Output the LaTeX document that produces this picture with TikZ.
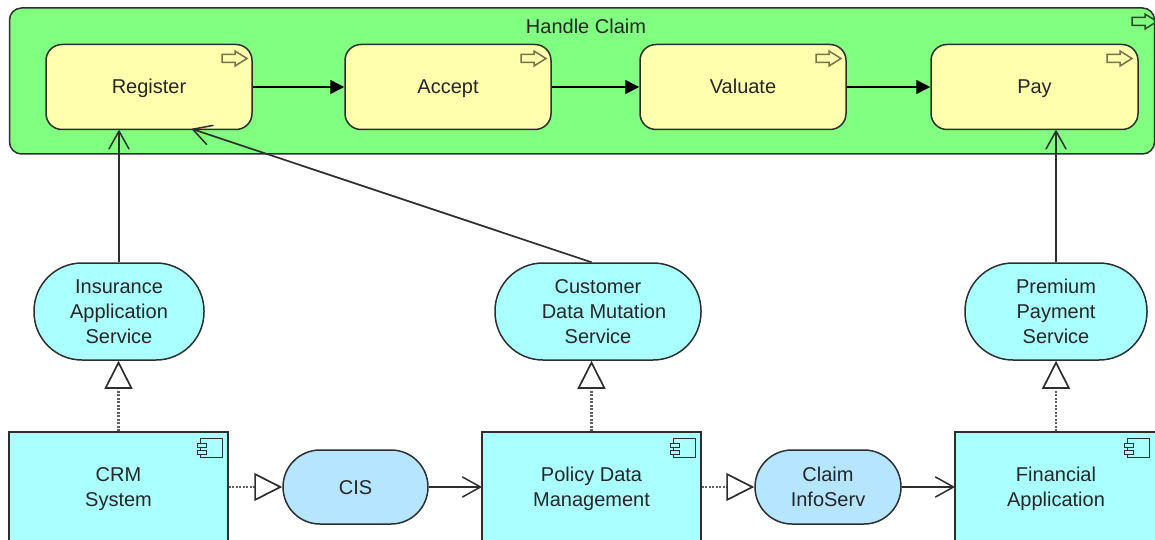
\documentclass[tikz,border=0pt]{standalone}
\usepackage{fontspec}
\setmainfont{Liberation Sans}
\usetikzlibrary{arrows.meta,calc}
\definecolor{edgec}{HTML}{2E2E2E}
\definecolor{groupc}{HTML}{80FF80}
\definecolor{procc}{HTML}{FFFFAE}
\definecolor{appc}{HTML}{AAFFFF}
\definecolor{infc}{HTML}{B5E5FF}
\newcommand{\ls}{\rule[-4.5pt]{0pt}{23pt}}
\tikzset{
  lab/.style={font=\fontsize{20}{25}\selectfont,text=black!85,align=center,inner sep=0pt},
  box/.style={lab,draw=edgec,line width=1.5pt,minimum width=#1},
  grp/.style={box=1145pt,fill=groupc,minimum height=146pt,rounded corners=12pt},
  proc/.style={box=206pt,fill=procc,minimum height=85pt,rounded corners=16pt},
  svc/.style={box=#1,fill=appc,minimum height=97pt,rounded corners=48pt},
  iface/.style={box=145pt,fill=infc,minimum height=74pt,rounded corners=37pt},
  comp/.style={box=#1,fill=appc,minimum height=110pt},
  trig/.style={draw=black,line width=1.4pt,-{Triangle[length=14pt,width=14pt]}},
  flowa/.style={draw=edgec,line width=1.7pt,-{Straight Barb[length=18pt,width=20pt,line width=1.5pt,round]}},
  real/.style={draw=gray!75!black,line width=2.6pt,dash pattern=on 2pt off 1.5pt,
    -{Triangle[open,length=28pt,width=28pt,line width=1.7pt,fill=white,color=edgec]}},
  iconarrow/.style={draw=#1,line width=1.5pt},
}
\newcommand{\procicon}[3]{% x y colour
  \draw[iconarrow=#3] (#1,#2+3.5) -- (#1+13,#2+3.5) -- (#1+13,#2) -- (#1+25,#2+7.5) -- (#1+13,#2+15) -- (#1+13,#2+11.5) -- (#1,#2+11.5) -- cycle;}
\newcommand{\compicon}[2]{% x y
  \draw[draw=edgec,line width=1pt] (#1,#2) rectangle (#1+22,#2+19);
  \draw[draw=edgec,fill=appc,line width=1pt] (#1-3,#2+5) rectangle (#1+6,#2+9);
  \draw[draw=edgec,fill=appc,line width=1pt] (#1-3,#2+12) rectangle (#1+6,#2+16);}
\begin{document}
\begin{tikzpicture}[x=1pt,y=-1pt]
\useasboundingbox (0,0) rectangle (1155,540);
\clip (0,0) rectangle (1155,540);
\node[grp] (claim) at (582,81) {};
\node[lab] (claimt) at (586,26.5) {\ls Handle Claim};
\node[proc] (reg) at (149,87) {\ls Register};
\node[proc] (acc) at (448,87) {\ls Accept};
\node[proc] (val) at (743,87) {\ls Valuate};
\node[proc,minimum width=207pt] (pay) at (1034.5,87) {\ls Pay};
\node[svc=170pt] (ins) at (119,311.5) {\ls Insurance\\\ls Application\\\ls Service};
\node[svc=206pt] (cus) at (598,311.5) {\ls Customer\\\ls\hspace*{12pt}Data Mutation\\\ls Service};
\node[svc=182pt] (pre) at (1056,311.5) {\ls Premium\\\ls Payment\\\ls Service};
\node[comp=219pt] (crm) at (118.5,487) {\ls CRM\\\ls System};
\node[comp=219pt] (pol) at (591.5,487) {\ls Policy Data\\\ls Management};
\node[comp=202pt] (fin) at (1056,487) {\ls Financial\\\ls Application};
\node[iface] (cis) at (355.5,487) {\ls CIS};
\node[iface,minimum width=146pt] (inf) at (828,487) {\ls Claim\\\ls InfoServ};
\coordinate (regin) at (192,129);
\draw[trig] (reg) -- (acc);
\draw[trig] (acc) -- (val);
\draw[trig] (val) -- (pay);
\draw[flowa] (ins.north) -- (ins.north |- reg.south);
\draw[flowa] (cus.north -| pol.north) -- (regin);
\draw[flowa] (pre.north) -- (pre.north |- pay.south);
\draw[real] (crm.north) -- (crm.north |- ins.south);
\draw[real] (pol.north) -- (pol.north |- cus.south);
\draw[real] (fin.north) -- (fin.north |- pre.south);
\draw[real] (crm.east) -- (cis.west);
\draw[real] (pol.east) -- (inf.west);
\draw[flowa] (cis) -- (pol);
\draw[flowa] (inf) -- (fin);
\procicon{222}{51}{black!55!procc}
\procicon{521}{51}{black!55!procc}
\procicon{816}{51}{black!55!procc}
\procicon{1107}{51}{black!55!procc}
\procicon{1132}{14}{black!70!groupc}
\compicon{200}{438}
\compicon{673}{438}
\compicon{1127}{438}
\end{tikzpicture}
\end{document}
